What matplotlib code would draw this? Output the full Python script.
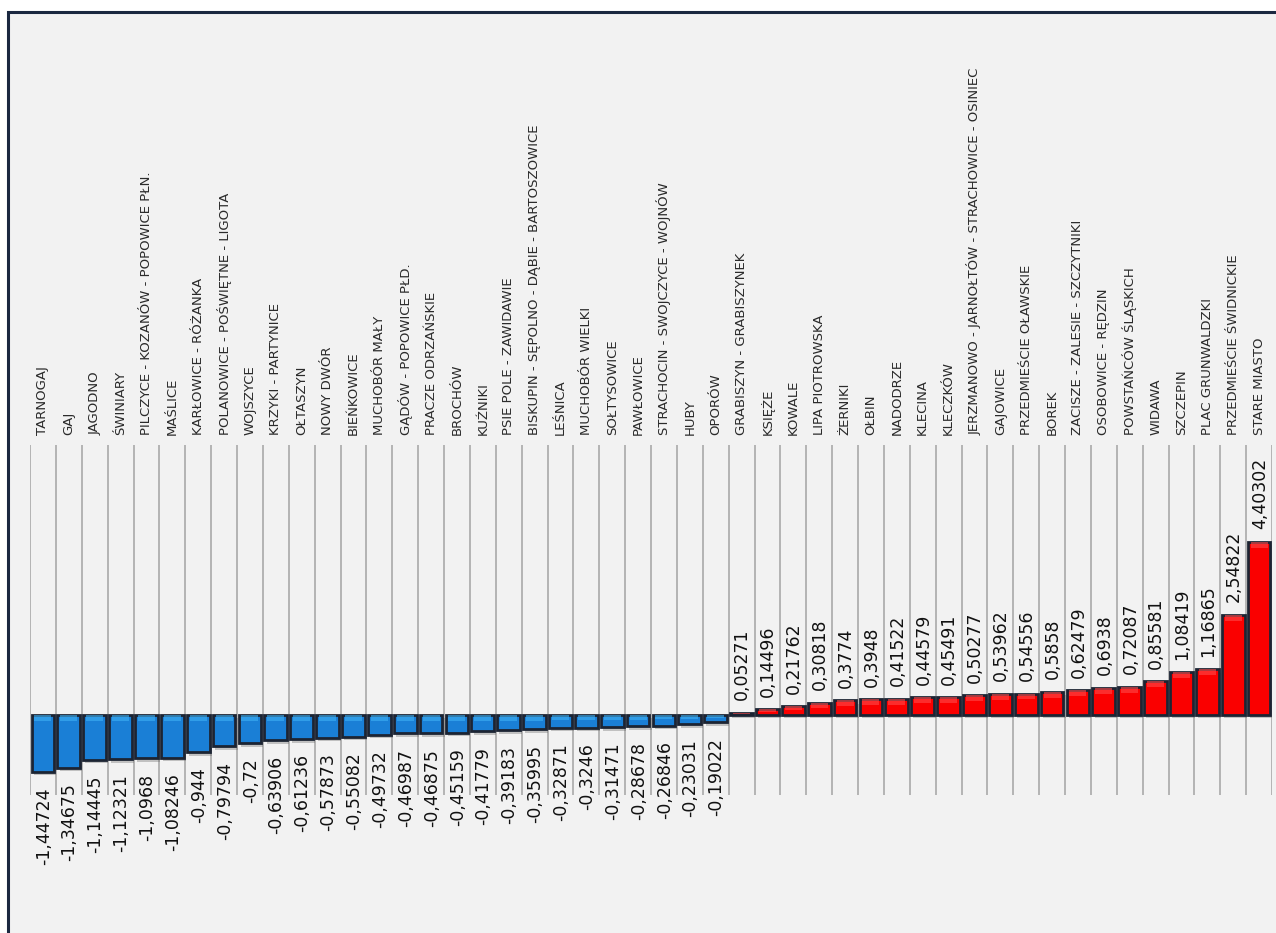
#!/usr/bin/python3

import matplotlib
import matplotlib.pyplot as plt
import matplotlib.patheffects as pe
from matplotlib.patches import Rectangle

# Use a non-interactive backend
matplotlib.use('Agg')

# District names, left to right
districts = [
    'TARNOGAJ', 'GAJ', 'JAGODNO', 'ŚWINIARY',
    'PILCZYCE - KOZANÓW - POPOWICE PŁN.', 'MAŚLICE', 'KARŁOWICE - RÓŻANKA',
    'POLANOWICE - POŚWIĘTNE - LIGOTA', 'WOJSZYCE', 'KRZYKI - PARTYNICE',
    'OŁTASZYN', 'NOWY DWÓR', 'BIEŃKOWICE', 'MUCHOBÓR MAŁY',
    'GĄDÓW - POPOWICE PŁD.', 'PRACZE ODRZAŃSKIE', 'BROCHÓW', 'KUŹNIKI',
    'PSIE POLE - ZAWIDAWIE', 'BISKUPIN - SĘPOLNO - DĄBIE - BARTOSZOWICE',
    'LEŚNICA', 'MUCHOBÓR WIELKI', 'SOŁTYSOWICE', 'PAWŁOWICE',
    'STRACHOCIN - SWOJCZYCE - WOJNÓW', 'HUBY', 'OPORÓW',
    'GRABISZYN - GRABISZYNEK', 'KSIĘŻE', 'KOWALE', 'LIPA PIOTROWSKA',
    'ŻERNIKI', 'OŁBIN', 'NADODRZE', 'KLECINA', 'KLECZKÓW',
    'JERZMANOWO - JARNOŁTÓW - STRACHOWICE - OSINIEC', 'GAJOWICE',
    'PRZEDMIEŚCIE OŁAWSKIE', 'BOREK', 'ZACISZE - ZALESIE - SZCZYTNIKI',
    'OSOBOWICE - RĘDZIN', 'POWSTAŃCÓW ŚLĄSKICH', 'WIDAWA', 'SZCZEPIN',
    'PLAC GRUNWALDZKI', 'PRZEDMIEŚCIE ŚWIDNICKIE', 'STARE MIASTO',
]

# Index value per district
values = [
    -1.44724, -1.34675, -1.14445, -1.12321, -1.0968, -1.08246, -0.944,
    -0.79794, -0.72, -0.63906, -0.61236, -0.57873, -0.55082, -0.49732,
    -0.46987, -0.46875, -0.45159, -0.41779, -0.39183, -0.35995, -0.32871,
    -0.3246, -0.31471, -0.28678, -0.26846, -0.23031, -0.19022,
    0.05271, 0.14496, 0.21762, 0.30818, 0.3774, 0.3948, 0.41522, 0.44579,
    0.45491, 0.50277, 0.53962, 0.54556, 0.5858, 0.62479, 0.6938, 0.72087,
    0.85581, 1.08419, 1.16865, 2.54822, 4.40302,
]

W, H = 1276, 933
NEG_FACE, NEG_LIGHT = '#1a7fd6', '#3fb2f5'
POS_FACE, POS_LIGHT = '#fa0000', '#ff4a4a'
EDGE = '#1c2433'


# Polish decimal comma
def fmt(v):
    return repr(v).replace('.', ',')


def draw_frame(fig):
    # light grey panel with a dark border on top and left, cropped at right/bottom
    bg = fig.add_axes([0, 0, 1, 1], zorder=-5)
    bg.set_xlim(0, W)
    bg.set_ylim(H, 0)
    bg.axis('off')
    bg.add_patch(Rectangle((8, 12), W + 50, H + 50, facecolor='#f2f2f2',
                           edgecolor='#1b2840', linewidth=2.2))


def plot_bars(ax):
    n = len(values)
    xs = list(range(n))
    faces = [NEG_FACE if v < 0 else POS_FACE for v in values]
    lights = [NEG_LIGHT if v < 0 else POS_LIGHT for v in values]

    # separators between categories
    for i in range(n + 1):
        ax.axvline(i - 0.5, color='#a9a9a9', linewidth=1.2, zorder=1)

    bars = ax.bar(xs, values, width=0.88, color=faces, edgecolor=EDGE,
                  linewidth=2.0, zorder=3)
    for b in bars:
        b.set_path_effects([pe.SimplePatchShadow(offset=(1.5, -2.5),
                                                 shadow_rgbFace='#666666',
                                                 alpha=0.35),
                            pe.Normal()])

    # lighter bevel band at the visual top of every bar
    band = [min(abs(v) * 0.4, 0.15) for v in values]
    bottoms = [v - b if v > 0 else 0 for v, b in zip(values, band)]
    ax.bar(xs, [b if v > 0 else -b for v, b in zip(values, band)],
           bottom=bottoms, width=0.66, color=lights,
           linewidth=0, zorder=4, alpha=0.6)

    # value labels
    for x, v in zip(xs, values):
        if v < 0:
            ax.annotate(fmt(v), (x, v), xytext=(0.5, -11), textcoords='offset points',
                        rotation=90, ha='center', va='top', fontsize=12.5,
                        color='#111111', zorder=5)
        else:
            ax.annotate(fmt(v), (x, v), xytext=(0.5, 9), textcoords='offset points',
                        rotation=90, ha='center', va='bottom', fontsize=12.5,
                        color='#111111', zorder=5)

    ax.set_xlim(-0.5, n - 0.5)
    ax.set_ylim(-(795 - 715) / 39.3, (715 - 445) / 39.3)

    # district names above the plot
    ax.xaxis.set_ticks_position('top')
    ax.set_xticks(xs)
    ax.set_xticklabels(districts, rotation=90, fontsize=9.5, color='#2a2a2a')
    ax.tick_params(axis='x', length=0, pad=7)
    ax.set_yticks([])
    for s in ax.spines.values():
        s.set_visible(False)
    ax.patch.set_alpha(0)


def main():
    fig = plt.figure(figsize=(W / 100, H / 100), dpi=100, facecolor='white')
    draw_frame(fig)
    ax = fig.add_axes([30 / W, (H - 795) / H, (1272 - 30) / W, (795 - 445) / H])
    plot_bars(ax)
    fig.savefig('out.png', dpi=100, facecolor='white')
    plt.close(fig)


if __name__ == "__main__":
    main()
